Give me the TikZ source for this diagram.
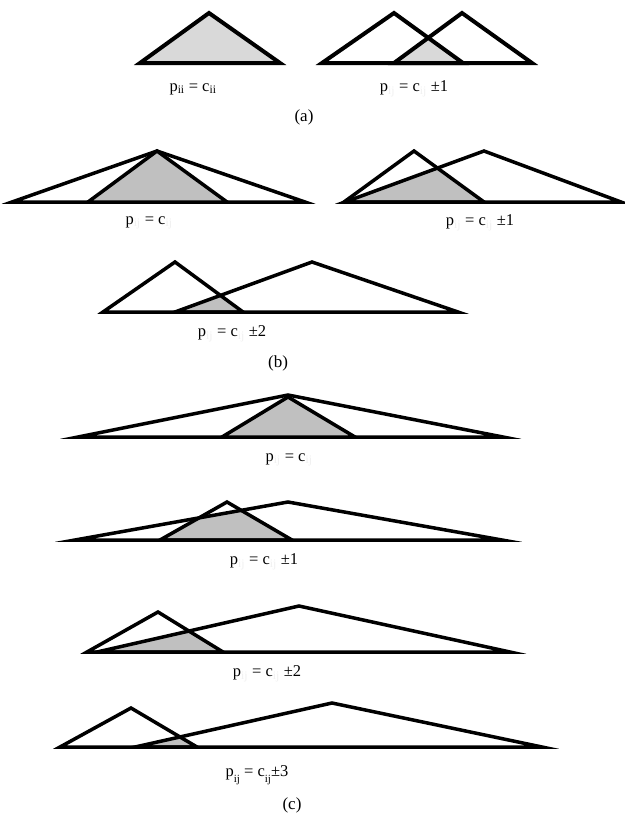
\documentclass[tikz,border=0pt]{standalone}
\usepackage{fontspec}
\setmainfont{Liberation Serif}
\definecolor{lightfill}{HTML}{D9D9D9}
\definecolor{midfill}{HTML}{C0C0C0}
\definecolor{faint}{HTML}{F0F0F0}
\newcommand{\fsub}[1]{\textsubscript{\color{faint}#1}}
\newcommand{\dsub}[1]{\raisebox{-0.8ex}{\fontsize{11}{11}\selectfont #1}}
\begin{document}
\begin{tikzpicture}[x=1pt,y=-1pt,
  tri/.style={draw=black,line width=3.5pt,line join=miter,miter limit=25},
  tria/.style={draw=black,line width=4pt,line join=miter,miter limit=25},
  lbl/.style={font=\fontsize{16.5}{19}\selectfont,inner sep=0pt,anchor=center},
  captxt/.style={font=\fontsize{17}{20}\selectfont,inner sep=0pt,anchor=center}]
\useasboundingbox (0,0) rectangle (624,819);
\fill[white] (0,0) rectangle (624,819);
% ---------- (a) ----------
\fill[lightfill] (140,63) -- (209,13) -- (280,63) -- cycle;
\draw[tria] (140,63) -- (209,13) -- (280,63) -- cycle;
\begin{scope}
  \clip (322,63) -- (394,13) -- (463,63) -- cycle;
  \fill[lightfill] (394,63) -- (462,13) -- (532,63) -- cycle;
\end{scope}
\draw[tria] (322,63) -- (394,13) -- (463,63) -- cycle;
\draw[tria] (394,63) -- (462,13) -- (532,63) -- cycle;
\node[lbl] (la1) at (193,89) {p\textsubscript{ii} = c\textsubscript{ii}};
\node[lbl] (la2) at (414,89) {p\fsub{ij} = c\fsub{ij} ±1};
\node[captxt] (capa) at (304,117) {(a)};
% ---------- (b) ----------
\draw[tri] (12,202) -- (157,151) -- (305,202) -- cycle;
\filldraw[tri,fill=midfill] (88,202) -- (157,151) -- (227,202) -- cycle;
\begin{scope}
  \clip (344,202) -- (414,151) -- (484,202) -- cycle;
  \fill[midfill] (345,202) -- (484,151) -- (621,202) -- cycle;
\end{scope}
\draw[tri] (344,202) -- (414,151) -- (484,202) -- cycle;
\draw[tri] (345,202) -- (484,151) -- (621,202) -- cycle;
\node[lbl] (lb1) at (149,223) {p\fsub{ij} = c\fsub{ij}};
\node[lbl] (lb2) at (480,223) {p\fsub{ij} = c\fsub{ij} ±1};
\begin{scope}
  \clip (103,312) -- (175,262) -- (243,312) -- cycle;
  \fill[midfill] (175,312) -- (312,262) -- (458,312) -- cycle;
\end{scope}
\draw[tri] (103,312) -- (175,262) -- (243,312) -- cycle;
\draw[tri] (175,312) -- (312,262) -- (458,312) -- cycle;
\node[lbl] (lb3) at (232,334) {p\fsub{ij} = c\fsub{ij} ±2};
\node[captxt] (capb) at (278,363) {(b)};
% ---------- (c) ----------
\draw[tri] (78,437) -- (288,395) -- (503,437) -- cycle;
\filldraw[tri,fill=midfill] (222,437) -- (288,397) -- (355,437) -- cycle;
\node[lbl] (lc1) at (289,460) {p\fsub{ij} = c\fsub{ij}};
\begin{scope}
  \clip (160,540) -- (227,502) -- (292,540) -- cycle;
  \fill[midfill] (75,540) -- (288,502) -- (502,540) -- cycle;
\end{scope}
\draw[tri] (75,540) -- (288,502) -- (502,540) -- cycle;
\draw[tri] (160,540) -- (227,502) -- (292,540) -- cycle;
\node[lbl] (lc2) at (264,562) {p\fsub{ij} = c\fsub{ij} ±1};
\begin{scope}
  \clip (87,652) -- (158,612) -- (223,652) -- cycle;
  \fill[midfill] (97,652) -- (299,606) -- (510,652) -- cycle;
\end{scope}
\draw[tri] (87,652) -- (158,612) -- (223,652) -- cycle;
\draw[tri] (97,652) -- (299,606) -- (510,652) -- cycle;
\node[lbl] (lc3) at (267,674) {p\fsub{ij} = c\fsub{ij} ±2};
\begin{scope}
  \clip (60,747) -- (131,708) -- (197,747) -- cycle;
  \fill[midfill] (135,747) -- (332,703) -- (542,747) -- cycle;
\end{scope}
\draw[tri] (60,747) -- (131,708) -- (197,747) -- cycle;
\draw[tri] (135,747) -- (332,703) -- (542,747) -- cycle;
\node[lbl] (lc4) at (257,775) {p\dsub{ij} = c\dsub{ij}±3};
\node[captxt] (capc) at (292,805) {(c)};
\end{tikzpicture}
\end{document}
